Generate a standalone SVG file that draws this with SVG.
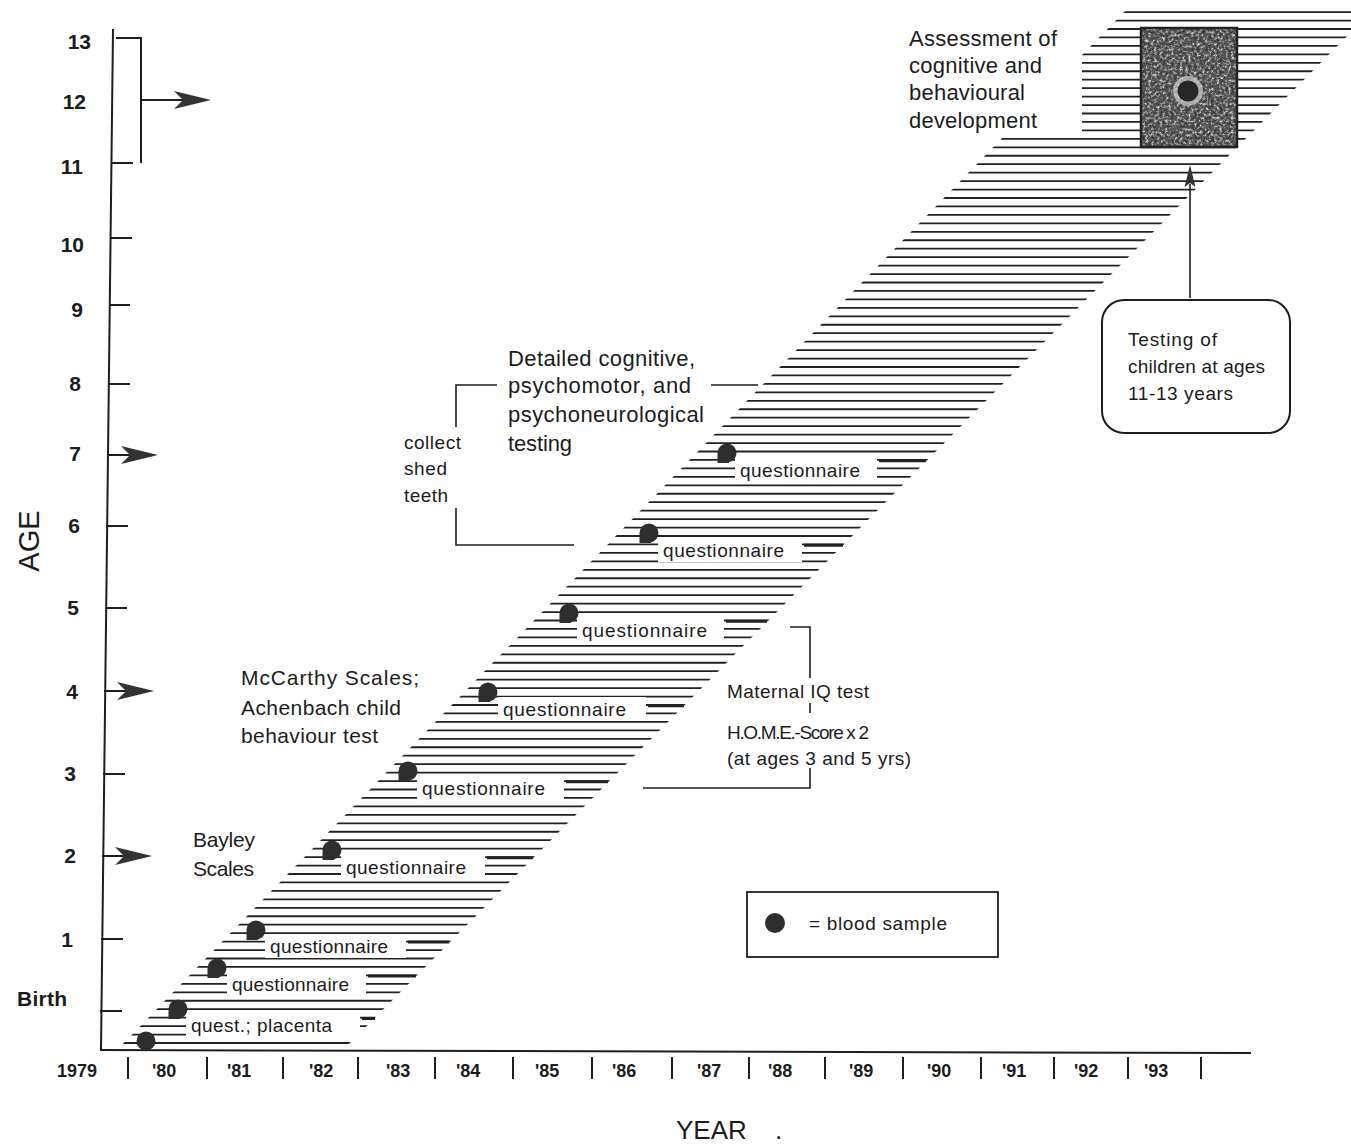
<svg xmlns="http://www.w3.org/2000/svg" xmlns:xlink="http://www.w3.org/1999/xlink" width="1351" height="1146" viewBox="0 0 1351 1146">
<style>
text{font-family:"Liberation Sans",Arial,Helvetica,sans-serif;fill:#1c1c1c}
.ax{stroke:#1e1e1e;stroke-width:2;fill:none;stroke-linecap:square}
.ln{stroke:#1e1e1e;stroke-width:1.6;fill:none}
.band{stroke:#222;stroke-width:1.8;fill:none}
.frag{stroke:#222;stroke-width:3;fill:none}
.gap{fill:#fff}
.num{font-weight:bold;font-size:21px}
.yr{font-weight:bold;font-size:18px}
.q{font-size:19px}
.big{font-size:22px}
.mid{font-size:21px}
.dot{fill:#2e2e2e}
.arr{fill:#333}
</style>
<defs>
<clipPath id="bandClip"><polygon points="120,1047 346,1047 1378,5 1131,5 1082,55 1082,134 1006,134"/></clipPath>
<path id="dart" d="M0,0 L-37,-9 L-28,0 L-37,9 Z"/>
<path id="bd" d="M-9.5,0 A9.5,9.5 0 0 1 9.5,0 A9.5,9.5 0 0 1 2,9.3 L2,10 L-9.5,10 Z"/>
<filter id="grain" x="0" y="0" width="1" height="1" color-interpolation-filters="sRGB">
<feTurbulence type="fractalNoise" baseFrequency="0.35" numOctaves="2" seed="5" result="n"/>
<feColorMatrix in="n" type="matrix" values="1 0 0 0 0 1 0 0 0 0 1 0 0 0 0 0 0 0 0 1" result="g"/>
<feComponentTransfer in="g">
<feFuncR type="discrete" tableValues="0.18 0.22 0.28 0.36 0.55 0.78 0.85"/>
<feFuncG type="discrete" tableValues="0.18 0.22 0.28 0.36 0.55 0.78 0.85"/>
<feFuncB type="discrete" tableValues="0.18 0.22 0.28 0.36 0.55 0.78 0.85"/>
</feComponentTransfer>
</filter>
</defs>
<rect width="1351" height="1146" fill="#fff"/>

<g id="band">
<path class="band" clip-path="url(#bandClip)" d="M100 1043H1360M100 1034.55H1360M100 1026.1H1360M100 1017.65H1360M100 1009.2H1360M100 1000.75H1360M100 992.3H1360M100 983.85H1360M100 975.4H1360M100 966.95H1360M100 958.5H1360M100 950.05H1360M100 941.6H1360M100 933.15H1360M100 924.7H1360M100 916.25H1360M100 907.8H1360M100 899.35H1360M100 890.9H1360M100 882.45H1360M100 874H1360M100 865.55H1360M100 857.1H1360M100 848.65H1360M100 840.2H1360M100 831.75H1360M100 823.3H1360M100 814.85H1360M100 806.4H1360M100 797.95H1360M100 789.5H1360M100 781.05H1360M100 772.6H1360M100 764.15H1360M100 755.7H1360M100 747.25H1360M100 738.8H1360M100 730.35H1360M100 721.9H1360M100 713.45H1360M100 705H1360M100 696.55H1360M100 688.1H1360M100 679.65H1360M100 671.2H1360M100 662.75H1360M100 654.3H1360M100 645.85H1360M100 637.4H1360M100 628.95H1360M100 620.5H1360M100 612.05H1360M100 603.6H1360M100 595.15H1360M100 586.7H1360M100 578.25H1360M100 569.8H1360M100 561.35H1360M100 552.9H1360M100 544.45H1360M100 536H1360M100 527.55H1360M100 519.1H1360M100 510.65H1360M100 502.2H1360M100 493.75H1360M100 485.3H1360M100 476.85H1360M100 468.4H1360M100 459.95H1360M100 451.5H1360M100 443.05H1360M100 434.6H1360M100 426.15H1360M100 417.7H1360M100 409.25H1360M100 400.8H1360M100 392.35H1360M100 383.9H1360M100 375.45H1360M100 367H1360M100 358.55H1360M100 350.1H1360M100 341.65H1360M100 333.2H1360M100 324.75H1360M100 316.3H1360M100 307.85H1360M100 299.4H1360M100 290.95H1360M100 282.5H1360M100 274.05H1360M100 265.6H1360M100 257.15H1360M100 248.7H1360M100 240.25H1360M100 231.8H1360M100 223.35H1360M100 214.9H1360M100 206.45H1360M100 198H1360M100 189.55H1360M100 181.1H1360M100 172.65H1360M100 164.2H1360M100 155.75H1360M100 147.3H1360M100 138.85H1360M100 130.4H1360M100 121.95H1360M100 113.5H1360M100 105.05H1360M100 96.6H1360M100 88.15H1360M100 79.7H1360M100 71.25H1360M100 62.8H1360M100 54.35H1360M100 45.9H1360M100 37.45H1360M100 29H1360M100 20.55H1360M100 12.1H1360"/>
</g>

<g id="age-axis">
<path class="ax" d="M113 30L101 1050"/>
<path class="ax" d="M117 38H141V162 M112 163H132 M111 238H131 M110 305H129 M109 384H129 M107 526H127 M106 608H126 M104 774H124 M102 939H122 M101 1011H121"/>
<text class="num" x="91" y="49" text-anchor="end">13</text>
<text class="num" x="86" y="109" text-anchor="end">12</text>
<text class="num" x="83" y="174" text-anchor="end">11</text>
<text class="num" x="84" y="252" text-anchor="end">10</text>
<text class="num" x="83" y="317" text-anchor="end">9</text>
<text class="num" x="81" y="391" text-anchor="end">8</text>
<text class="num" x="81" y="461" text-anchor="end">7</text>
<text class="num" x="80" y="533" text-anchor="end">6</text>
<text class="num" x="79" y="615" text-anchor="end">5</text>
<text class="num" x="78" y="699" text-anchor="end">4</text>
<text class="num" x="76" y="781" text-anchor="end">3</text>
<text class="num" x="76" y="863" text-anchor="end">2</text>
<text class="num" x="73" y="947" text-anchor="end">1</text>
<text class="num" x="17" y="1006" font-size="20" textLength="50">Birth</text>
<text x="0" y="0" font-size="29" text-anchor="middle" transform="translate(39,541) rotate(-90)">AGE</text>
</g>

<g id="year-axis">
<path class="ax" d="M101 1050L1250 1053"/>
<path class="ax" d="M128 1058V1078 M207 1058V1078 M283 1058V1078 M358 1058V1078 M435 1058V1078 M513 1058V1078 M592 1058V1078 M672 1058V1078 M749 1058V1078 M825 1058V1078 M903 1058V1078 M981 1058V1078 M1054 1058V1078 M1128 1058V1078 M1201 1058V1078"/>
<text class="yr" x="57" y="1077">1979</text>
<text class="yr" x="152" y="1077">'80</text>
<text class="yr" x="227" y="1077">'81</text>
<text class="yr" x="309" y="1077">'82</text>
<text class="yr" x="386" y="1077">'83</text>
<text class="yr" x="456" y="1077">'84</text>
<text class="yr" x="535" y="1077">'85</text>
<text class="yr" x="612" y="1077">'86</text>
<text class="yr" x="697" y="1077">'87</text>
<text class="yr" x="768" y="1077">'88</text>
<text class="yr" x="849" y="1077">'89</text>
<text class="yr" x="927" y="1077">'90</text>
<text class="yr" x="1002" y="1077">'91</text>
<text class="yr" x="1074" y="1077">'92</text>
<text class="yr" x="1144" y="1077">'93</text>
<text x="676" y="1139" font-size="26">YEAR <tspan x="775">.</tspan></text>
</g>

<g id="connectors">
<path class="ax" d="M141 100H185 M108 455H131 M105 691H127 M103 856H125"/>
<use href="#dart" class="arr" transform="translate(211,100)"/>
<use href="#dart" class="arr" transform="translate(158,455)"/>
<use href="#dart" class="arr" transform="translate(154,691)"/>
<use href="#dart" class="arr" transform="translate(152,856)"/>
<path class="ln" d="M497 385H456V427 M456 508V545H574 M711 385H758"/>
<path class="ln" d="M790 627H810V678 M810 703V713 M810 768V788H643"/>
<path class="ln" d="M1190 298V184"/>
<path class="arr" d="M1190 165L1184.5 187L1190 183L1195.5 187Z"/>
</g>

<g id="node-birth">
<circle class="dot" cx="146" cy="1041" r="9.5"/>
</g>

<g id="node-placenta">
<rect class="gap" x="186" y="1013" width="174" height="24"/>
<path class="frag" d="M362 1018.5H375"/>
<text class="q" x="191" y="1032" textLength="141">quest.; placenta</text>
<use href="#bd" class="dot" transform="translate(178,1009)"/>
</g>

<g id="node-q-c">
<rect class="gap" x="227" y="972" width="139" height="24"/>
<path class="frag" d="M368 976H416"/>
<text class="q" x="232" y="991" textLength="117">questionnaire</text>
<use href="#bd" class="dot" transform="translate(217,968)"/>
</g>

<g id="node-q-1">
<rect class="gap" x="265" y="934" width="141" height="24"/>
<path class="frag" d="M408 942H449"/>
<text class="q" x="270" y="953" textLength="118">questionnaire</text>
<use href="#bd" class="dot" transform="translate(256,930)"/>
</g>

<g id="node-q-2">
<rect class="gap" x="341" y="855" width="144" height="24"/>
<path class="frag" d="M487 857.8H533"/>
<text class="q" x="346" y="874" textLength="120">questionnaire</text>
<use href="#bd" class="dot" transform="translate(332,850)"/>
</g>

<g id="node-q-3">
<rect class="gap" x="417" y="776" width="147" height="24"/>
<path class="frag" d="M566 781.8H608"/>
<text class="q" x="422" y="795" textLength="123">questionnaire</text>
<use href="#bd" class="dot" transform="translate(408,771)"/>
</g>

<g id="node-q-4">
<rect class="gap" x="498" y="697" width="148" height="24"/>
<path class="frag" d="M648 705.7H684"/>
<text class="q" x="503" y="716" textLength="123">questionnaire</text>
<use href="#bd" class="dot" transform="translate(488,692)"/>
</g>

<g id="node-q-5">
<rect class="gap" x="577" y="618" width="147" height="24"/>
<path class="frag" d="M726 621.2H767"/>
<text class="q" x="582" y="637" textLength="125">questionnaire</text>
<use href="#bd" class="dot" transform="translate(569,613)"/>
</g>

<g id="node-q-6">
<rect class="gap" x="658" y="538" width="144" height="24"/>
<path class="frag" d="M804 545.2H843"/>
<text class="q" x="663" y="557" textLength="121">questionnaire</text>
<use href="#bd" class="dot" transform="translate(649,533)"/>
</g>

<g id="node-q-7">
<rect class="gap" x="735" y="458" width="142" height="24"/>
<path class="frag" d="M879 460.7H926"/>
<text class="q" x="740" y="477" textLength="120">questionnaire</text>
<use href="#bd" class="dot" transform="translate(727,453)"/>
</g>

<g id="node-assessment">
<text class="big" x="909" y="46" textLength="148">Assessment of</text>
<text class="big" x="909" y="73" textLength="133">cognitive and</text>
<text class="big" x="909" y="100" textLength="116">behavioural</text>
<text class="big" x="909" y="128" textLength="128">development</text>
<rect x="1141" y="28" width="96" height="119" filter="url(#grain)"/>
<rect x="1141" y="28" width="96" height="119" fill="none" stroke="#222" stroke-width="2.5"/>
<circle cx="1188" cy="91" r="15" fill="#cfcfcf" opacity="0.7"/>
<circle cx="1188" cy="91" r="10.5" fill="#262626"/>
</g>

<g id="node-testing">
<rect x="1102" y="300" width="188" height="133" rx="22" fill="#fff" stroke="#1e1e1e" stroke-width="2"/>
<text class="q" x="1128" y="346" textLength="89">Testing of</text>
<text class="q" x="1128" y="373" textLength="137">children at ages</text>
<text class="q" x="1128" y="400" textLength="105">11-13 years</text>
</g>

<g id="node-detailed">
<text class="big" x="508" y="366" textLength="187">Detailed cognitive,</text>
<text class="big" x="508" y="393" textLength="183">psychomotor, and</text>
<text class="big" x="508" y="422" textLength="196">psychoneurological</text>
<text class="big" x="508" y="451" textLength="64">testing</text>
</g>

<g id="node-teeth">
<text class="q" x="404" y="449" textLength="57">collect</text>
<text class="q" x="404" y="475" textLength="43">shed</text>
<text class="q" x="404" y="502" textLength="44">teeth</text>
</g>

<g id="node-mccarthy">
<text class="mid" x="241" y="685" textLength="178">McCarthy Scales;</text>
<text class="mid" x="241" y="715" textLength="160">Achenbach child</text>
<text class="mid" x="241" y="743" textLength="137">behaviour test</text>
</g>

<g id="node-bayley">
<text class="mid" x="193" y="847" textLength="62">Bayley</text>
<text class="mid" x="193" y="876" textLength="61">Scales</text>
</g>

<g id="node-maternal">
<text class="q" x="727" y="698" textLength="142">Maternal IQ test</text>
<text class="q" x="727" y="739" font-size="17" textLength="142">H.O.M.E.-Score x 2</text>
<text class="q" x="727" y="765" textLength="184">(at ages 3 and 5 yrs)</text>
</g>

<g id="node-legend">
<rect x="747" y="892" width="251" height="65" fill="#fff" stroke="#1e1e1e" stroke-width="1.8"/>
<circle class="dot" cx="775" cy="923" r="10"/>
<text class="q" x="809" y="930" textLength="138">= blood sample</text>
</g>
</svg>
